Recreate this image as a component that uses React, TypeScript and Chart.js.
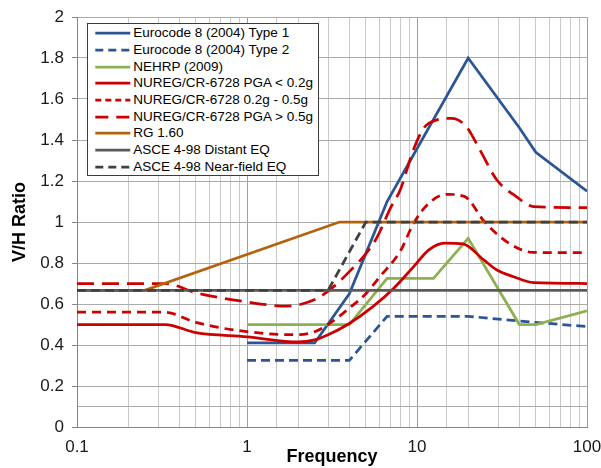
import React, { useEffect, useRef } from 'react';
import { Chart, registerables } from 'chart.js';

Chart.register(...registerables);

const FONT = '"Liberation Sans", Arial, Helvetica, sans-serif';

// ---- data ----
const seriesLabels = [
  'Eurocode 8 (2004) Type 1',
  'Eurocode 8 (2004) Type 2',
  'NEHRP (2009)',
  'NUREG/CR-6728 PGA < 0.2g',
  'NUREG/CR-6728 0.2g - 0.5g',
  'NUREG/CR-6728 PGA > 0.5g',
  'RG 1.60',
  'ASCE 4-98 Distant EQ',
  'ASCE 4-98 Near-field EQ',
];

const ec1Freq = [1, 2.5, 4, 6.67, 20, 40, 50, 100];
const ec1Ratio = [0.41, 0.41, 0.65, 1.1, 1.8, 1.46, 1.34, 1.15];

const ec2Freq = [1, 4, 6.67, 20, 50, 100];
const ec2Ratio = [0.325, 0.325, 0.54, 0.54, 0.51, 0.49];

const nehrpFreq = [1, 4, 6.67, 12.5, 20, 40, 50, 100];
const nehrpRatio = [0.5, 0.5, 0.725, 0.725, 0.92, 0.5, 0.5, 0.567];

const nuregLowFreq = [0.1, 0.33, 0.5, 1, 2, 2.5, 3, 4, 5.5, 7.3, 9.5, 11.7, 14.5, 18.6, 24.7, 29.5, 37, 48.5, 100];
const nuregLowRatio = [0.5, 0.5, 0.46, 0.44, 0.415, 0.425, 0.45, 0.505, 0.587, 0.677, 0.78, 0.863, 0.897, 0.893, 0.815, 0.766, 0.733, 0.704, 0.7];

const nuregMidFreq = [0.1, 0.33, 0.5, 1, 2, 2.5, 3, 4, 5, 6, 8, 9.5, 11.7, 15, 19, 25, 35, 48, 100];
const nuregMidRatio = [0.56, 0.56, 0.51, 0.465, 0.45, 0.465, 0.5, 0.58, 0.65, 0.73, 0.86, 0.99, 1.09, 1.135, 1.125, 1.0, 0.895, 0.852, 0.85];

const nuregHighFreq = [0.1, 0.33, 0.5, 1, 1.7, 2, 2.7, 4, 5.7, 7, 8, 9.5, 11, 13, 16, 19.5, 23.5, 29.5, 38.5, 48.5, 100];
const nuregHighRatio = [0.7, 0.7, 0.655, 0.61, 0.59, 0.595, 0.636, 0.758, 0.912, 1.07, 1.16, 1.35, 1.46, 1.497, 1.506, 1.465, 1.35, 1.205, 1.123, 1.075, 1.07];

const rgFreq = [0.1, 0.25, 3.5, 100];
const rgRatio = [0.667, 0.667, 1, 1];

const asceDistFreq = [0.1, 100];
const asceDistRatio = [0.667, 0.667];

const asceNearFreq = [0.1, 3, 5, 100];
const asceNearRatio = [0.667, 0.667, 1, 1];

const xTickLabels = ['0.1', '1', '10', '100'];
const yMin = 0;
const yMax = 2;
const yStep = 0.2;
const yExtraGrid = [0.1];

// ---- styles ----
const seriesData = [
  [ec1Freq, ec1Ratio],
  [ec2Freq, ec2Ratio],
  [nehrpFreq, nehrpRatio],
  [nuregLowFreq, nuregLowRatio],
  [nuregMidFreq, nuregMidRatio],
  [nuregHighFreq, nuregHighRatio],
  [rgFreq, rgRatio],
  [asceDistFreq, asceDistRatio],
  [asceNearFreq, asceNearRatio],
];

const seriesStyle = [
  { color: '#2B5594', dash: [], legendDash: '', smooth: false },
  { color: '#2B5594', dash: [9, 5], legendDash: '8 5', smooth: false },
  { color: '#8DB050', dash: [], legendDash: '', smooth: false },
  { color: '#CC0000', dash: [], legendDash: '', smooth: true },
  { color: '#CC0000', dash: [9, 6], legendDash: '6 4', smooth: true },
  { color: '#CC0000', dash: [17, 8], legendDash: '13 8', smooth: true },
  { color: '#B5620F', dash: [], legendDash: '', smooth: false },
  { color: '#5A5A5A', dash: [], legendDash: '', smooth: false },
  { color: '#404040', dash: [9, 5], legendDash: '8 5', smooth: false },
];

const isPow10 = (v: number) => {
  if (!(v > 0)) return false;
  const l = Math.log10(v);
  return Math.abs(l - Math.round(l)) < 1e-6;
};

export default function App() {
  const canvasRef = useRef<HTMLCanvasElement | null>(null);

  useEffect(() => {
    const canvas = canvasRef.current;
    if (!canvas) return;
    const n = seriesLabels.length;
    const datasets = seriesLabels.map((label, i) => {
      const [f, r] = seriesData[i];
      const st = seriesStyle[i];
      return {
        label,
        data: f.map((x, k) => ({ x, y: r[k] })),
        borderColor: st.color,
        backgroundColor: st.color,
        borderWidth: 2.75,
        borderDash: st.dash,
        pointRadius: 0,
        pointHoverRadius: 0,
        fill: false,
        cubicInterpolationMode: st.smooth ? 'monotone' : 'default',
        tension: 0,
        order: n - i,
      };
    });

    const chart = new Chart(canvas, {
      type: 'line',
      data: { datasets: datasets as any },
      options: {
        animation: false,
        responsive: false,
        devicePixelRatio: 1,
        events: [],
        layout: { padding: { top: 17, right: 14, bottom: 0, left: 0 } },
        plugins: {
          legend: { display: false },
          tooltip: { enabled: false },
        },
        scales: {
          x: {
            type: 'logarithmic',
            min: 0.1,
            max: 100,
            afterFit: (scale: any) => {
              scale.height = 41;
              scale.paddingLeft = 0;
              scale.paddingRight = 0;
            },
            ticks: {
              autoSkip: false,
              maxRotation: 0,
              minRotation: 0,
              padding: 10,
              color: '#1a1a1a',
              font: { family: FONT, size: 17 },
              callback: (value: any) => {
                const v = Number(value);
                if (!isPow10(v)) return '';
                const idx = Math.round(Math.log10(v)) + 1;
                return xTickLabels[idx] ?? '';
              },
            },
            grid: {
              drawTicks: false,
              lineWidth: 1,
              color: (ctx: any) => (isPow10(ctx.tick?.value) ? '#9f9f9f' : '#c9c9c9'),
            },
            border: { display: true, color: '#868686', width: 1 },
            title: {
              display: true,
              text: 'Frequency',
              color: '#000',
              font: { family: FONT, size: 18, weight: 'bold' },
              padding: { top: 0, bottom: 0 },
            },
          },
          y: {
            type: 'linear',
            min: yMin,
            max: yMax,
            afterFit: (scale: any) => {
              scale.width = 77;
              scale.paddingTop = 0;
              scale.paddingBottom = 0;
            },
            afterBuildTicks: (scale: any) => {
              yExtraGrid.forEach((v) => scale.ticks.push({ value: v }));
              scale.ticks.sort((a: any, b: any) => a.value - b.value);
            },
            ticks: {
              stepSize: yStep,
              padding: 8,
              color: '#1a1a1a',
              font: { family: FONT, size: 17 },
              callback: (value: any) => {
                const v = Number(value);
                if (yExtraGrid.some((g) => Math.abs(g - v) < 1e-9)) return '';
                return String(Number(v.toFixed(1)));
              },
            },
            grid: {
              drawTicks: true,
              tickLength: 5,
              lineWidth: 1,
              color: '#aaaaaa',
              tickColor: (ctx: any) =>
                yExtraGrid.some((g) => Math.abs(g - (ctx.tick?.value ?? -1)) < 1e-9) ? 'rgba(0,0,0,0)' : '#868686',
            },
            border: { display: true, color: '#868686', width: 1 },
            title: {
              display: true,
              text: 'V/H Ratio',
              color: '#000',
              font: { family: FONT, size: 18, weight: 'bold' },
              padding: { top: 9, bottom: 0 },
            },
          },
        },
      } as any,
    });

    return () => {
      chart.destroy();
    };
  }, []);

  const rowH = 16.67;

  return (
    <div style={{ position: 'fixed', left: 0, top: 0, width: 601, height: 468, background: '#fff' }}>
      <canvas ref={canvasRef} width={601} height={468} style={{ display: 'block', width: 601, height: 468 }} />
      <div
        style={{
          position: 'absolute',
          left: 86.7,
          top: 23.3,
          width: 232.6,
          height: 152.7,
          border: '1px solid #3c3c3c',
          background: '#fff',
          boxSizing: 'border-box',
        }}
      >
        {seriesLabels.map((label, i) => {
          const st = seriesStyle[i];
          const cy = 9 + i * rowH;
          return (
            <div key={label}>
              <svg
                width={40}
                height={10}
                style={{ position: 'absolute', left: 5, top: cy - 5, overflow: 'visible' }}
              >
                <line
                  x1={2.3}
                  x2={37.3}
                  y1={5}
                  y2={5}
                  stroke={st.color}
                  strokeWidth={2.75}
                  strokeDasharray={st.legendDash || undefined}
                />
              </svg>
              <span
                style={{
                  position: 'absolute',
                  left: 45.6,
                  top: cy - 8,
                  height: 16,
                  lineHeight: '16px',
                  fontFamily: FONT,
                  fontSize: 13.5,
                  color: '#000',
                  whiteSpace: 'nowrap',
                }}
              >
                {label}
              </span>
            </div>
          );
        })}
      </div>
    </div>
  );
}
